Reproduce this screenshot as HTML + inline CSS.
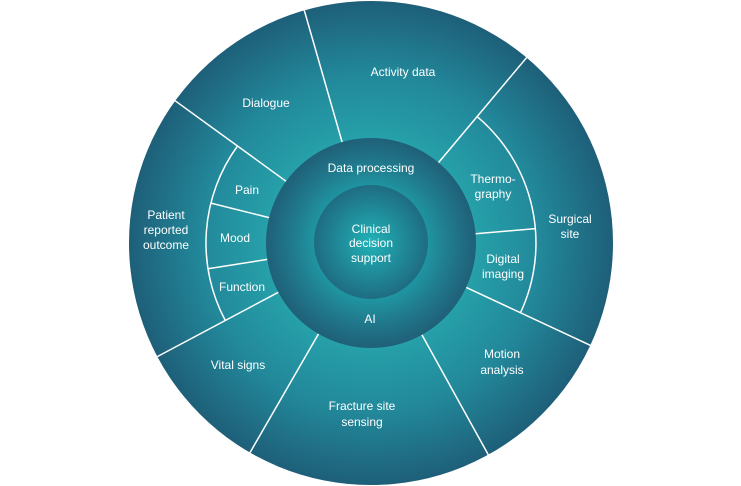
<!DOCTYPE html>
<html><head><style>html,body{margin:0;padding:0;background:#fff}svg{display:block}text{font-family:"Liberation Sans",sans-serif;font-size:12px;fill:#fff;text-anchor:middle}</style></head>
<body>
<svg width="741" height="486" viewBox="0 0 741 486" xmlns="http://www.w3.org/2000/svg">
<defs>
<radialGradient id="g1" cx="371" cy="243" r="242" gradientUnits="userSpaceOnUse">
<stop offset="0.4" stop-color="#26a3ab"/><stop offset="0.7" stop-color="#22889a"/><stop offset="1" stop-color="#1e5f79"/></radialGradient>
<radialGradient id="g2" cx="371" cy="243" r="105" gradientUnits="userSpaceOnUse">
<stop offset="0.5" stop-color="#1f9aa5"/><stop offset="0.75" stop-color="#207a8d"/><stop offset="1" stop-color="#1f6078"/></radialGradient>
<radialGradient id="g3" cx="371" cy="242" r="57" gradientUnits="userSpaceOnUse">
<stop offset="0" stop-color="#20b2b7"/><stop offset="1" stop-color="#1f6c82"/></radialGradient>
</defs>
<circle cx="371" cy="243" r="242" fill="url(#g1)"/>
<g stroke="#fff" stroke-width="1.5" fill="none">
<line x1="342.1" y1="142.1" x2="304.3" y2="10.4"/>
<line x1="438.5" y1="162.6" x2="526.6" y2="57.6"/>
<line x1="466.2" y1="287.4" x2="590.3" y2="345.3"/>
<line x1="421.9" y1="334.8" x2="488.3" y2="454.7"/>
<line x1="318.5" y1="333.9" x2="250" y2="452.6"/>
<line x1="278.3" y1="292.3" x2="157.3" y2="356.6"/>
<line x1="286.1" y1="181.3" x2="175.2" y2="100.8"/>
<line x1="269.1" y1="217.6" x2="210.9" y2="203.1"/>
<line x1="267.3" y1="259.4" x2="208.0" y2="268.8"/>
<line x1="475.6" y1="233.8" x2="535.4" y2="228.6"/>
<path d="M225.3 320.5 A165 165 0 0 1 237.5 146.0"/>
<path d="M477.1 116.6 A165 165 0 0 1 520.5 312.7"/>
</g>
<circle cx="371" cy="243" r="105" fill="url(#g2)"/>
<circle cx="371" cy="242" r="57" fill="url(#g3)"/>
<text x="371" y="172">Data processing</text>
<text x="370" y="323">AI</text>
<text x="371" y="233">Clinical</text>
<text x="371" y="247">decision</text>
<text x="371" y="262">support</text>
<text x="403" y="76">Activity data</text>
<text x="266" y="107">Dialogue</text>
<text x="247" y="194">Pain</text>
<text x="235" y="242">Mood</text>
<text x="242" y="291">Function</text>
<text x="166" y="219">Patient</text>
<text x="166" y="234">reported</text>
<text x="166" y="249">outcome</text>
<text x="493" y="183">Thermo-</text>
<text x="493" y="198">graphy</text>
<text x="503" y="263">Digital</text>
<text x="503" y="278">imaging</text>
<text x="570" y="223">Surgical</text>
<text x="570" y="238">site</text>
<text x="502" y="358">Motion</text>
<text x="502" y="374">analysis</text>
<text x="238" y="369">Vital signs</text>
<text x="362" y="410">Fracture site</text>
<text x="362" y="426">sensing</text>
</svg>
</body></html>
